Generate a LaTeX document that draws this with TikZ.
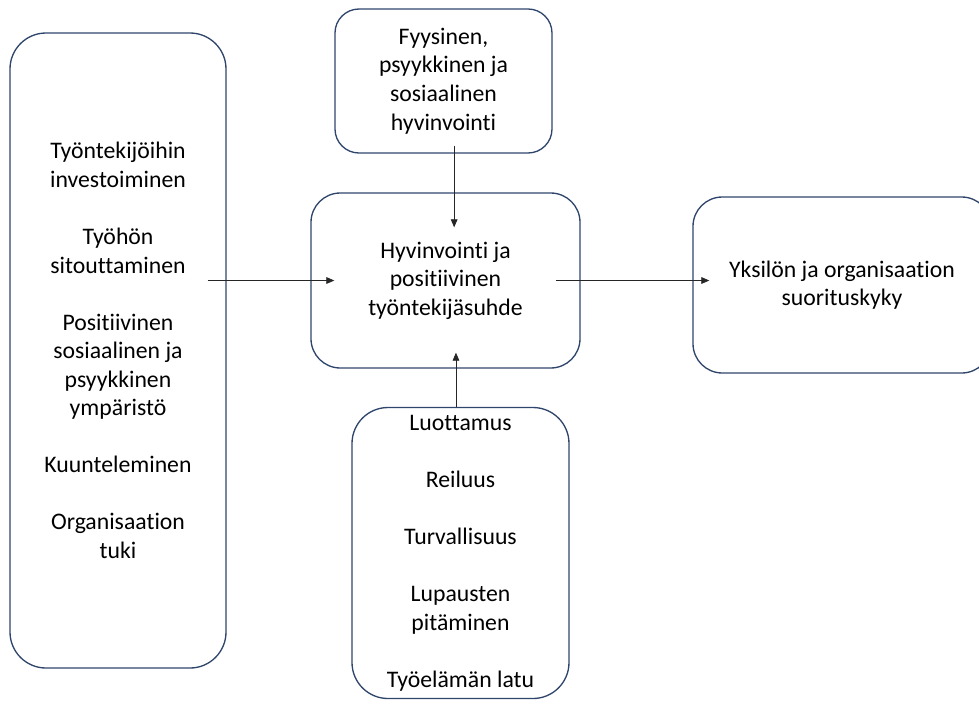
\documentclass[tikz,border=0pt]{standalone}
\usepackage{fontspec}
\setmainfont{Carlito}[Ligatures=NoCommon]
\usetikzlibrary{arrows.meta}
\definecolor{boxblue}{RGB}{47,69,107}
\begin{document}
\begin{tikzpicture}[x=0.75pt,y=-0.75pt,
    box/.style={draw=boxblue, line width=1pt, align=center, inner sep=0pt,
        font=\fontsize{17.8}{21.4}\selectfont},
    arr/.style={draw=black!85, line width=0.6pt, -{Triangle[length=6pt,width=5pt]}}]
            \useasboundingbox (0,0) rectangle (979,704);
            \clip (0,0) rectangle (979,704);

            \node[box, rounded corners=27pt, minimum width=162pt, minimum height=476.25pt] (left) at (118,350.5)
                {Työntekijöihin\\investoiminen\\[21.4pt]Työhön\\sitouttaminen\\[21.4pt]Positiivinen\\sosiaalinen ja\\psyykkinen\\ympäristö\\[21.4pt]Kuunteleminen\\[21.4pt]Organisaation\\tuki};
            \node[box, rounded corners=18pt, minimum width=162.75pt, minimum height=108pt] (top) at (443.5,81)
                {Fyysinen,\\psyykkinen ja\\sosiaalinen\\hyvinvointi};
            \node[box, rounded corners=22pt, minimum width=201.75pt, minimum height=131.25pt] (mid) at (445.5,280.5)
                {Hyvinvointi ja\\positiivinen\\työntekijäsuhde};
            \node[box, rounded corners=22pt, minimum width=223.5pt, minimum height=132pt] (right) at (842,285)
                {Yksilön ja organisaation\\suorituskyky};
            \node[box, rounded corners=27pt, minimum width=162.75pt, minimum height=218.25pt] (bot) at (460.5,553)
                {Luottamus\\[21.4pt]Reiluus\\[21.4pt]Turvallisuus\\[21.4pt]Lupausten\\pitäminen\\[21.4pt]Työelämän latu};

            \coordinate (topout) at ([xshift=8pt]top.south);
            \coordinate (botin) at ([xshift=-3.4pt]bot.north);

            \draw[arr, shorten <=-14.25pt, shorten >=-18pt] (left.east |- mid.west) -- (mid.west);
            \draw[arr, shorten <=-6pt, shorten >=-26.25pt] (topout) -- (topout |- mid.north);
            \draw[arr, shorten >=-12pt] (botin) -- (botin |- mid.south);
            \draw[arr, shorten <=-18.75pt, shorten >=-12.75pt] (mid.east) -- (right.west |- mid.east);

        \end{tikzpicture}
\end{document}
